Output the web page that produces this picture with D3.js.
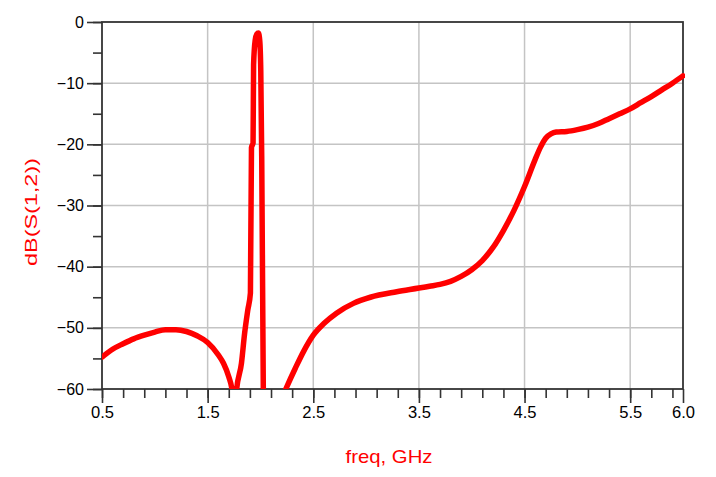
<!DOCTYPE html>
<html>
<head>
<meta charset="utf-8">
<script src="https://cdn.jsdelivr.net/npm/d3@7"></script>
<style>
  body { margin: 0; background: #fff; }
  svg { display: block; font-family: "Liberation Sans", Arial, sans-serif; }
  .axis path { display: none; }
  .axis line { stroke: #333; stroke-width: 1.6; }
</style>
</head>
<body>
<svg id="chart" width="716" height="477"></svg>
<script>
// frequency points, GHz
var freqGHz = [0.5, 0.6, 0.7, 0.8, 0.9, 1.0, 1.1, 1.2, 1.3, 1.4, 1.5, 1.6, 1.65, 1.7, 1.73, 1.755,
  1.775, 1.82, 1.85, 1.88, 1.905, 1.915, 1.93, 1.935, 1.95, 1.965, 1.98, 1.993, 2.003, 2.012, 2.027,
  2.04, 2.1, 2.2, 2.24, 2.33, 2.41, 2.5, 2.6, 2.72, 2.88, 3.04, 3.29, 3.5, 3.6, 3.7, 3.8, 3.9, 4.0, 4.1,
  4.2, 4.3, 4.4, 4.5, 4.6, 4.65, 4.7, 4.75, 4.8, 4.9, 5.0, 5.1, 5.2, 5.3, 5.4, 5.5, 5.6, 5.7,
  5.8, 5.9, 6.0];
// dB(S(1,2)) (below -60 is clipped away)
var s12dB = [-54.8, -53.5, -52.6, -51.8, -51.2, -50.7, -50.3, -50.3, -50.6, -51.3, -52.4, -54.4, -55.8, -58, -60, -64,
  -60, -55.8, -50.9, -47.1, -44.3, -20.5, -19.8, -7, -3, -2, -1.8, -3, -8, -22, -60,
  -72, -72, -61.6, -60, -56.6, -53.8, -51.2, -49.3, -47.6, -46, -45, -44.1, -43.5, -43.2, -42.9, -42.4, -41.6, -40.5, -39,
  -36.9, -34.1, -30.8, -26.9, -22.5, -20.5, -19, -18.3, -18, -17.9, -17.6, -17.2, -16.6, -15.8, -15, -14.2, -13.2, -12.2,
  -11.1, -10, -8.8];

var xMajor = [0.5, 1.5, 2.5, 3.5, 4.5, 5.5, 6.0];
var xGrid = [1.5, 2.5, 3.5, 4.5, 5.5];
var yMajor = [0, -10, -20, -30, -40, -50, -60];
var yGrid = [-10, -20, -30, -40, -50];

var plotLeft = 102, plotRight = 683, plotTop = 22, plotBottom = 389;

var svg = d3.select("#chart");

var x = d3.scaleLinear().domain([0.5, 6]).range([plotLeft, plotRight]);
var y = d3.scaleLinear().domain([-60, 0]).range([plotBottom, plotTop]);

var xMinor = d3.range(0, 28).map(function(k) { return 0.5 + 0.2 * k; });
var yMinor = d3.range(0, 13).map(function(k) { return -5 * k; });

// grid
svg.append("g").selectAll("line").data(xGrid).enter().append("line")
  .attr("x1", function(d) { return x(d); }).attr("x2", function(d) { return x(d); })
  .attr("y1", plotTop).attr("y2", plotBottom)
  .attr("stroke", "#c4c4c4").attr("stroke-width", 1.5);
svg.append("g").selectAll("line").data(yGrid).enter().append("line")
  .attr("y1", function(d) { return y(d); }).attr("y2", function(d) { return y(d); })
  .attr("x1", plotLeft).attr("x2", plotRight)
  .attr("stroke", "#c4c4c4").attr("stroke-width", 1.5);

// ticks
svg.append("g").attr("class", "axis").attr("transform", "translate(0," + plotBottom + ")")
  .call(d3.axisBottom(x).tickValues(xMinor).tickSize(9).tickFormat(""));
var xAxis = svg.append("g").attr("class", "axis").attr("transform", "translate(0," + plotBottom + ")")
  .call(d3.axisBottom(x).tickValues(xMajor).tickSize(14).tickPadding(4).tickFormat(d3.format(".1f")));
svg.append("g").attr("class", "axis").attr("transform", "translate(" + plotLeft + ",0)")
  .call(d3.axisLeft(y).tickValues(yMinor).tickSize(9).tickFormat(""));
var yAxis = svg.append("g").attr("class", "axis").attr("transform", "translate(" + plotLeft + ",0)")
  .call(d3.axisLeft(y).tickValues(yMajor).tickSize(15).tickPadding(3).tickFormat(d3.format("d")));

xAxis.selectAll("text").style("font-size", "16px").attr("fill", "#000")
  .attr("textLength", 23).attr("lengthAdjust", "spacingAndGlyphs");
yAxis.selectAll("text").style("font-size", "16px").attr("fill", "#000");

// frame
svg.append("rect")
  .attr("x", plotLeft).attr("y", plotTop)
  .attr("width", plotRight - plotLeft).attr("height", plotBottom - plotTop)
  .attr("fill", "none").attr("stroke", "#333").attr("stroke-width", 1.8);

// trace
svg.append("clipPath").attr("id", "plotclip").append("rect")
  .attr("x", plotLeft).attr("y", plotTop - 5)
  .attr("width", plotRight - plotLeft + 2).attr("height", plotBottom - plotTop + 5);

var line = d3.line()
  .x(function(d) { return x(d[0]); })
  .y(function(d) { return y(d[1]); })
  .curve(d3.curveMonotoneX);

svg.append("path")
  .datum(d3.zip(freqGHz, s12dB))
  .attr("clip-path", "url(#plotclip)")
  .attr("d", line)
  .attr("fill", "none")
  .attr("stroke", "#ff0000")
  .attr("stroke-width", 5.5)
  .attr("stroke-linejoin", "round")
  .attr("stroke-linecap", "round");

// axis titles
svg.append("text")
  .attr("x", 389).attr("y", 463)
  .attr("text-anchor", "middle")
  .attr("fill", "#ff0000")
  .style("font-size", "19px")
  .attr("textLength", 87).attr("lengthAdjust", "spacingAndGlyphs")
  .text("freq, GHz");

svg.append("text")
  .attr("transform", "translate(37,212) rotate(-90)")
  .attr("text-anchor", "middle")
  .attr("fill", "#ff0000")
  .style("font-size", "17px")
  .attr("textLength", 108).attr("lengthAdjust", "spacingAndGlyphs")
  .text("dB(S(1,2))");
</script>
</body>
</html>
